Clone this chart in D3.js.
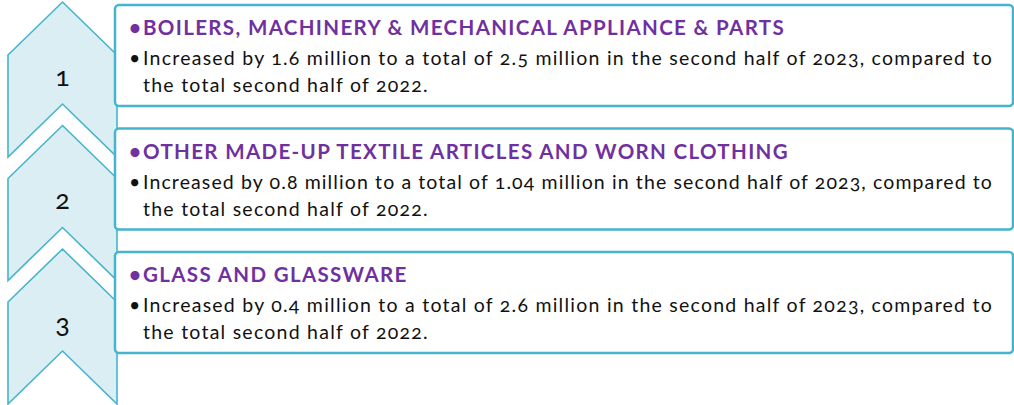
<!DOCTYPE html>
<html>
<head>
<meta charset="utf-8">
<script src="https://cdn.jsdelivr.net/npm/d3@7"></script>
<style>
  html, body { margin: 0; padding: 0; background: #fff; }
  svg { display: block; }
  text { font-family: Lato, "Open Sans", sans-serif; font-variant-numeric: oldstyle-nums; font-feature-settings: "onum" 1; }
</style>
</head>
<body>
<div class="svg-container"></div>
<script>
// datos
const ranks = [1, 2, 3];
const categories = [
  'BOILERS, MACHINERY & MECHANICAL APPLIANCE & PARTS',
  'OTHER MADE-UP TEXTILE ARTICLES AND WORN CLOTHING',
  'GLASS AND GLASSWARE'
];
const increases = ['1.6', '0.8', '0.4'];
const totals = ['2.5', '1.04', '2.6'];
const periodNow = 'second half of 2023';
const periodBefore = 'second half of 2022';

const width = 1014;
const height = 405;
const blue = '#46B4CD';
const lightBlue = '#DAEEF4';
const purple = '#7030A0';

const svg = d3.select('.svg-container')
  .append('svg')
  .attr('width', width)
  .attr('height', height)
  .attr('viewBox', `0 0 ${width} ${height}`);

// una banda por cada rango
const y = d3.scaleBand()
  .domain(ranks)
  .range([2, 2 + 3 * 123.5])
  .paddingInner(0);

const x = d3.scaleLinear().domain([0, 1]).range([8, 117]); // flecha
const boxLeft = 115, boxRight = 1013;
const tip = 53;       // altura de la punta
const arrowH = 155;   // alto total de la flecha

const items = ranks.map((r, i) => ({
  rank: r,
  title: categories[i],
  line1: `Increased by ${increases[i]} million to a total of ${totals[i]} million in the ${periodNow}, compared to`,
  line2: `the total ${periodBefore}.`
}));

// flechas (chevrons)
const chev = svg.append('g').attr('class', 'chevrons');
chev.selectAll('path')
  .data(items)
  .enter().append('path')
  .attr('d', d => {
    const t = y(d.rank);
    const mid = x(0.5);
    const p = d3.path();
    p.moveTo(mid, t);
    p.lineTo(x(1), t + tip);
    p.lineTo(x(1), t + arrowH);
    p.lineTo(mid, t + arrowH - tip);
    p.lineTo(x(0), t + arrowH);
    p.lineTo(x(0), t + tip);
    p.closePath();
    return p.toString();
  })
  .attr('fill', lightBlue)
  .attr('stroke', blue)
  .attr('stroke-width', 1.6)
  .attr('stroke-linejoin', 'miter');

chev.selectAll('text')
  .data(items)
  .enter().append('text')
  .attr('x', x(0.5))
  .attr('y', d => y(d.rank) + 73)
  .attr('text-anchor', 'middle')
  .attr('dominant-baseline', 'central')
  .attr('font-size', 27)
  .attr('fill', '#111')
  .text(d => d.rank);

// cajas
const boxes = svg.append('g').attr('class', 'boxes')
  .selectAll('g')
  .data(items)
  .enter().append('g')
  .attr('transform', d => `translate(0,${y(d.rank) + 3})`);

boxes.append('rect')
  .attr('x', boxLeft)
  .attr('y', 0)
  .attr('width', boxRight - boxLeft)
  .attr('height', 101)
  .attr('rx', 4)
  .attr('fill', '#fff')
  .attr('stroke', blue)
  .attr('stroke-width', 2.5);

const title = boxes.append('text')
  .attr('x', 129)
  .attr('y', 30)
  .attr('font-size', 20.5)
  .attr('font-weight', 'bold')
  .attr('fill', purple);
title.append('tspan').text('•');
const titleText = title.append('tspan').attr('x', 143).text(d => d.title);

const body = boxes.append('text')
  .attr('font-size', 19.5)
  .attr('fill', '#111');
body.append('tspan').attr('x', 129).attr('y', 60).text('•');
const line1 = body.append('tspan').attr('x', 143).attr('y', 60).text(d => d.line1);
const line2 = body.append('tspan').attr('x', 143).attr('y', 87).text(d => d.line2);

// espaciado de letras para acercarse al ancho de la fuente original
function spacingFor(node, target) {
  const w = node.getComputedTextLength();
  return (target - w) / node.textContent.length;
}
const lsTitle = spacingFor(titleText.node(), 785 - 143);
titleText.attr('letter-spacing', lsTitle);
const lsBody = [];
line1.each(function(d, i) {
  lsBody[i] = spacingFor(this, 993 - 143);
  d3.select(this).attr('letter-spacing', lsBody[i]);
});
line2.attr('letter-spacing', (d, i) => lsBody[0]);
</script>
</body>
</html>
